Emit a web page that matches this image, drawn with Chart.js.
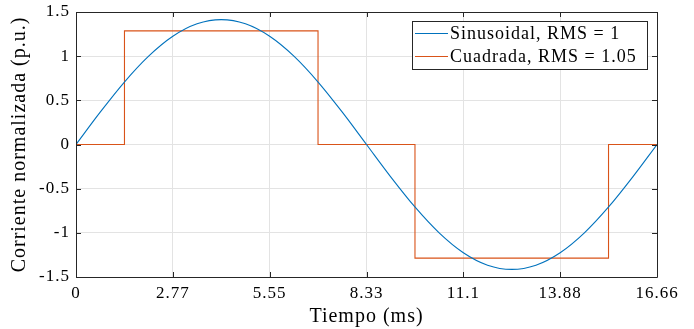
<!DOCTYPE html>
<html>
<head>
<meta charset="utf-8">
<script src="https://cdn.jsdelivr.net/npm/chart.js@4/dist/chart.umd.min.js"></script>
<style>
  html, body { margin: 0; padding: 0; background: #fff; }
  #wrap { width: 694px; height: 329px; }
</style>
</head>
<body>
<div id="wrap"><canvas id="chart" width="694" height="329"></canvas></div>
<script>
// sine wave, read at every 15 degrees of the period
const sineT = [0, 0.694, 1.388, 2.083, 2.777, 3.471, 4.165, 4.859, 5.553, 6.248, 6.942, 7.636, 8.33,
  9.024, 9.718, 10.413, 11.107, 11.801, 12.495, 13.189, 13.883, 14.578, 15.272, 15.966, 16.66];
const sineY = [0, 0.366, 0.707, 1.0, 1.225, 1.366, 1.414, 1.366, 1.225, 1.0, 0.707, 0.366, 0,
  -0.366, -0.707, -1.0, -1.225, -1.366, -1.414, -1.366, -1.225, -1.0, -0.707, -0.366, 0];

// square wave: level reached at each switching time
const squareT = [0, 1.39, 6.94, 9.72, 15.27, 16.66];
const squareY = [0, 1.286, 0, -1.286, 0, 0];

const seriesLabels = ['Sinusoidal, RMS = 1', 'Cuadrada, RMS = 1.05'];
const xTickVals = [0, 2.777, 5.553, 8.33, 11.107, 13.883, 16.66];
const xTickLabels = ['0', '2.77', '5.55', '8.33', '11.1', '13.88', '16.66'];
const yTickVals = [-1.5, -1, -0.5, 0, 0.5, 1, 1.5];
const yTickLabels = ['-1.5', '-1', '-0.5', '0', '0.5', '1', '1.5'];

const FONT = "'Liberation Serif', serif";
const AXIS = '#262626';

const boxPlugin = {
  id: 'box',
  beforeDraw(chart) {
    // the LaTeX font in the original runs wider than Times
    chart.ctx.letterSpacing = '1px';
  },
  afterDraw(chart) {
    const { ctx, chartArea: a, scales } = chart;
    ctx.save();
    ctx.strokeStyle = AXIS;
    ctx.lineWidth = 1;
    ctx.beginPath();
    ctx.rect(a.left + 0.5, a.top + 0.5, a.right - a.left, a.bottom - a.top);
    // inward ticks on all four sides
    const tl = 5;
    xTickVals.forEach(v => {
      const x = Math.round(scales.x.getPixelForValue(v)) + 0.5;
      ctx.moveTo(x, a.bottom); ctx.lineTo(x, a.bottom - tl);
      ctx.moveTo(x, a.top); ctx.lineTo(x, a.top + tl);
    });
    yTickVals.forEach(v => {
      const y = Math.round(scales.y.getPixelForValue(v)) + 0.5;
      ctx.moveTo(a.left, y); ctx.lineTo(a.left + tl, y);
      ctx.moveTo(a.right, y); ctx.lineTo(a.right - tl, y);
    });
    ctx.stroke();

    // legend
    const lx = 412, ly = 21, lw = 235, lh = 48;
    ctx.fillStyle = '#fff';
    ctx.fillRect(lx, ly, lw, lh);
    ctx.strokeStyle = AXIS;
    ctx.strokeRect(lx + 0.5, ly + 0.5, lw, lh);
    ctx.font = '18px ' + FONT;
    ctx.textBaseline = 'middle';
    chart.data.datasets.forEach((ds, i) => {
      const y = ly + 12 + i * 23;
      ctx.strokeStyle = ds.borderColor;
      ctx.beginPath();
      ctx.moveTo(lx + 3, y + 0.5); ctx.lineTo(lx + 36, y + 0.5);
      ctx.stroke();
      ctx.fillStyle = '#000';
      ctx.fillText(ds.label, lx + 38, y + 1);
    });
    ctx.restore();
  }
};

new Chart(document.getElementById('chart'), {
  type: 'line',
  data: {
    datasets: [
      {
        label: seriesLabels[0],
        data: sineT.map((t, i) => ({ x: t, y: sineY[i] })),
        borderColor: '#0072BD',
        borderWidth: 1.1,
        pointRadius: 0,
        cubicInterpolationMode: 'monotone'
      },
      {
        label: seriesLabels[1],
        data: squareT.map((t, i) => ({ x: t, y: squareY[i] })),
        borderColor: '#D95319',
        borderWidth: 1.1,
        pointRadius: 0,
        stepped: 'before'
      }
    ]
  },
  options: {
    responsive: false,
    animation: false,
    layout: { padding: { top: 12, right: 37, left: 0, bottom: 0 } },
    plugins: { legend: { display: false }, tooltip: { enabled: false } },
    scales: {
      x: {
        type: 'linear',
        min: 0,
        max: 16.66,
        afterBuildTicks: s => { s.ticks = xTickVals.map(v => ({ value: v })); },
        afterFit: s => { s.height = 52; s.paddingLeft = 0; s.paddingRight = 0; },
        ticks: {
          autoSkip: false,
          maxRotation: 0,
          padding: 6,
          color: '#000',
          font: { family: FONT, size: 17 },
          callback: (v, i) => xTickLabels[i]
        },
        grid: { color: '#e3e3e3', drawTicks: false },
        border: { display: false },
        title: {
          display: true,
          text: 'Tiempo (ms)',
          color: '#000',
          font: { family: FONT, size: 20 },
          padding: { top: 0, bottom: 0 }
        }
      },
      y: {
        min: -1.5,
        max: 1.5,
        afterBuildTicks: s => { s.ticks = yTickVals.map(v => ({ value: v })); },
        afterFit: s => { s.width = 76; s.paddingTop = 0; s.paddingBottom = 0; },
        ticks: {
          autoSkip: false,
          padding: 6,
          color: '#000',
          font: { family: FONT, size: 17 },
          callback: (v, i) => yTickLabels[i]
        },
        grid: { color: '#e3e3e3', drawTicks: false },
        border: { display: false },
        title: {
          display: true,
          text: 'Corriente normalizada (p.u.)',
          color: '#000',
          font: { family: FONT, size: 20 },
          padding: { top: 8, bottom: 0 }
        }
      }
    }
  },
  plugins: [boxPlugin]
});
</script>
</body>
</html>
